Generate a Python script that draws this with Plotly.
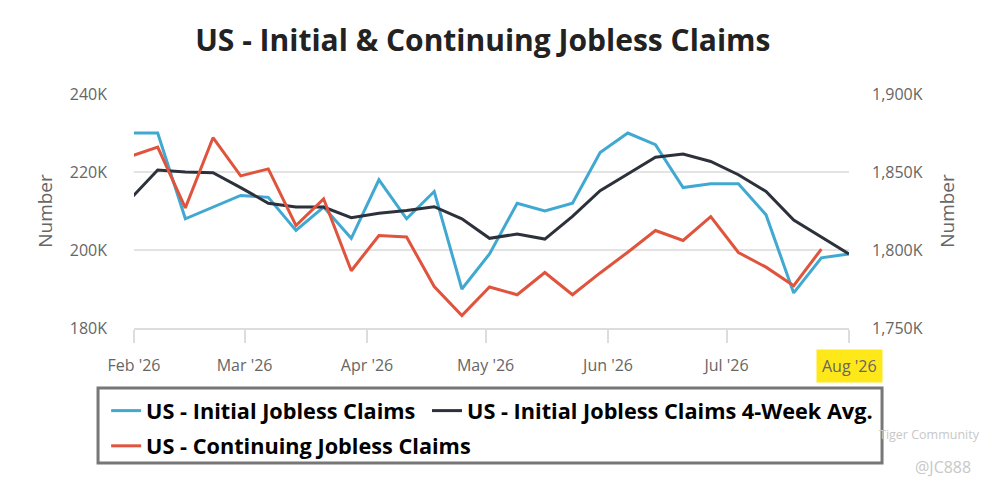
import plotly.graph_objects as go

# ---- data ----
weeks = ["2026-01-31", "2026-02-07", "2026-02-14", "2026-02-21", "2026-02-28",
         "2026-03-07", "2026-03-14", "2026-03-21", "2026-03-28", "2026-04-04",
         "2026-04-11", "2026-04-18", "2026-04-25", "2026-05-02", "2026-05-09",
         "2026-05-16", "2026-05-23", "2026-05-30", "2026-06-06", "2026-06-13",
         "2026-06-20", "2026-06-27", "2026-07-04", "2026-07-11", "2026-07-18",
         "2026-07-25", "2026-08-01"]

initial_claims = [230000, 230000, 208000, 211000, 214000, 213500, 205000, 211000,
                  203000, 218000, 208000, 215000, 190000, 199000, 212000, 210000,
                  212000, 225000, 230000, 227000, 216000, 217000, 217000, 209000,
                  189000, 198000, 199000]

initial_4wk_avg = [213000, 220500, 220000, 219800, 216000, 212000, 211000, 211000,
                   208300, 209400, 210100, 211100, 208000, 203000, 204100, 202800,
                   208600, 215200, 219500, 223800, 224600, 222700, 219300, 215000,
                   207700, 203300, 199000]

cont_weeks = weeks[:-1]
continuing_claims = [1860000, 1866000, 1827000, 1872000, 1847500, 1852000, 1815700,
                     1832800, 1786700, 1809300, 1808300, 1776600, 1758000, 1776300,
                     1771300, 1785600, 1771300, 1785300, 1798600, 1812500, 1806100,
                     1821400, 1798400, 1789000, 1777100, 1800600]

month_ticks = ["2026-02-01", "2026-03-01", "2026-04-01", "2026-05-01",
               "2026-06-01", "2026-07-01", "2026-08-01"]
month_labels = ["Feb '26", "Mar '26", "Apr '26", "May '26", "Jun '26", "Jul '26", "Aug '26"]

left_ticks = [180000, 200000, 220000, 240000]
left_labels = ["180K", "200K", "220K", "240K"]
right_ticks = [1750000, 1800000, 1850000, 1900000]
right_labels = ["1,750K", "1,800K", "1,850K", "1,900K"]

title_text = "US - Initial & Continuing Jobless Claims"
names = ["US - Initial Jobless Claims", "US - Initial Jobless Claims 4-Week Avg.",
         "US - Continuing Jobless Claims"]

# ---- styles ----
BLUE = "#41a9d1"
DARK = "#2c313c"
RED = "#e0533c"
TICKFONT = dict(family="Open Sans", size=16, color="#666666")
AXTITLEFONT = dict(family="Open Sans", size=19, color="#666666")
LEGFONT = dict(family="Open Sans", size=21.7, color="#000000", weight="bold")

fig = go.Figure()
fig.add_trace(go.Scatter(x=weeks, y=initial_claims, name=names[0], mode="lines",
                         line=dict(color=BLUE, width=3), yaxis="y",
                         legend="legend", legendgroup="a"))
fig.add_trace(go.Scatter(x=weeks, y=initial_4wk_avg, name=names[1], mode="lines",
                         line=dict(color=DARK, width=3), yaxis="y",
                         legend="legend2", legendgroup="b"))
fig.add_trace(go.Scatter(x=cont_weeks, y=continuing_claims, name=names[2], mode="lines",
                         line=dict(color=RED, width=3), yaxis="y2",
                         legend="legend", legendgroup="c"))

# Aug label shown as highlighted annotation
shown_labels = month_labels[:-1] + [""]

fig.update_layout(
    width=977, height=472,
    margin=dict(l=126, r=136, t=86, b=152),
    paper_bgcolor="white", plot_bgcolor="white",
    title=dict(text=f"<b>{title_text}</b>", x=0.486, xanchor="center", y=0.932, yanchor="middle",
               font=dict(family="Open Sans", size=30, color="#222222")),
    xaxis=dict(type="date", range=[month_ticks[0], month_ticks[-1]],
               tickvals=month_ticks, ticktext=shown_labels,
               showgrid=False, showline=True, linecolor="#dddddd", linewidth=2,
               ticks="outside", ticklen=13, tickwidth=2, tickcolor="#dddddd",
               ticklabelstandoff=9, tickfont=TICKFONT, zeroline=False),
    yaxis=dict(range=[180000, 240000], tickvals=left_ticks, ticktext=left_labels,
               showgrid=True, gridcolor="#e3e3e3", gridwidth=1.5, zeroline=False,
               showline=False, tickfont=TICKFONT, ticks="", ticklabelstandoff=26,
               title=dict(text="Number", font=AXTITLEFONT, standoff=12)),
    yaxis2=dict(range=[1750000, 1900000], tickvals=right_ticks, ticktext=right_labels,
                overlaying="y", side="right", showgrid=False, zeroline=False,
                tickfont=TICKFONT, ticks="", ticklabelstandoff=22,
                title=dict(text="Number", font=AXTITLEFONT, standoff=18)),
    legend=dict(orientation="v", x=-0.039, xanchor="left", y=-0.265, yanchor="top",
                borderwidth=0, bgcolor="rgba(0,0,0,0)", font=LEGFONT,
                itemwidth=30, tracegroupgap=4),
    legend2=dict(orientation="v", x=0.4098, xanchor="left", y=-0.265, yanchor="top",
                 borderwidth=0, bgcolor="rgba(0,0,0,0)", font=LEGFONT, itemwidth=30),
    showlegend=True,
    shapes=[
        dict(type="rect", xref="paper", yref="paper", x0=-0.0503, x1=1.0462,
             y0=-0.2564, y1=-0.5769, line=dict(color="#777777", width=3),
             fillcolor="rgba(0,0,0,0)", layer="above"),
    ],
    annotations=[
        dict(x=month_ticks[-1], xref="x", y=0, yref="paper", yanchor="top", yshift=-21,
             text=month_labels[-1], showarrow=False, font=TICKFONT,
             bgcolor="#ffe81a", borderpad=5),
        dict(x=1.039, xref="paper", y=-0.453, yref="paper", xanchor="left", yanchor="middle",
             text="Tiger Community", showarrow=False,
             font=dict(family="Open Sans", size=12.5, color="#c8c8c8")),
        dict(x=1.0895, xref="paper", y=-0.594, yref="paper", xanchor="left", yanchor="middle",
             text="@JC888", showarrow=False,
             font=dict(family="Open Sans", size=16, color="#c8c8c8")),
    ],
)

fig.write_html("out.html")
